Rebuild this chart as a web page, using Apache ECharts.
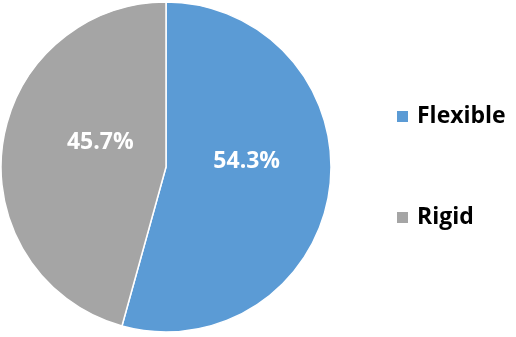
<!DOCTYPE html>
<html><head><meta charset="utf-8">
<script src="https://cdn.jsdelivr.net/npm/echarts@6/dist/echarts.min.js"></script>
<style>html,body{margin:0;padding:0;background:#fff}#c{width:516px;height:337px}</style>
</head><body><div id="c"></div>
<script>
const categories = ['Flexible', 'Rigid'];
const values = [54.3, 45.7];
const colors = ['#5B9BD5', '#A5A5A5'];
const labelOffsets = [[-4, -17], [19, -13]];

const chart = echarts.init(document.getElementById('c'));
chart.setOption({
  animation: false,
  legend: {
    orient: 'vertical',
    left: 390,
    top: 100,
    itemWidth: 13,
    itemHeight: 13,
    itemGap: 78,
    icon: 'rect',
    textStyle: { fontSize: 23, fontWeight: 'bold', color: '#000', fontFamily: 'Open Sans', padding: [0, 0, 0, 3] },
    data: categories
  },
  series: [{
    type: 'pie',
    center: [166, 167],
    radius: [0, 165],
    startAngle: 90,
    clockwise: true,
    itemStyle: { borderColor: '#fff', borderWidth: 1.5 },
    label: {
      position: 'inside',
      formatter: p => p.value.toFixed(1) + '%',
      color: '#fff',
      fontSize: 23,
      fontWeight: 'bold',
      fontFamily: 'Open Sans'
    },
    labelLine: { show: false },
    emphasis: { disabled: true },
    data: categories.map((n, i) => ({
      name: n, value: values[i],
      itemStyle: { color: colors[i] },
      label: { offset: labelOffsets[i] }
    }))
  }]
});
</script></body></html>
